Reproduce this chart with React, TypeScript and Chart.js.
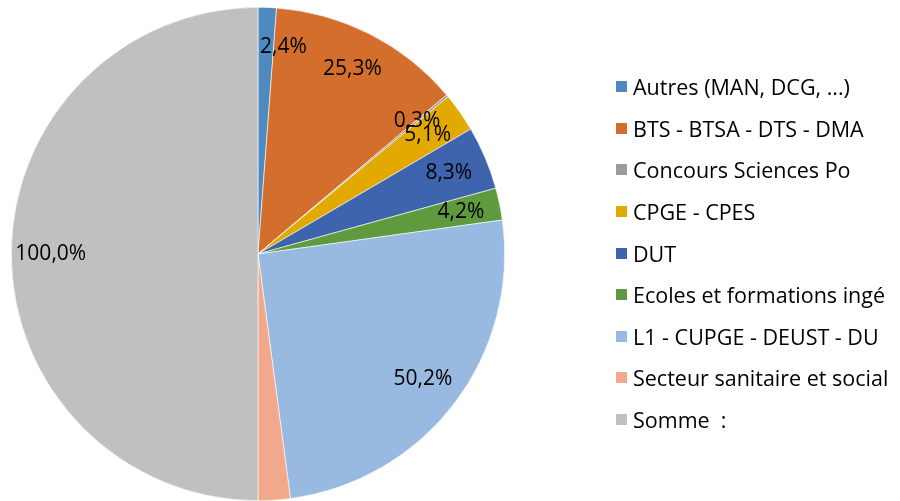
import React, { useEffect, useRef } from "react";
import { Chart, registerables } from "chart.js";

Chart.register(...registerables);

const categories = [
  "Autres (MAN, DCG, ...)",
  "BTS - BTSA - DTS - DMA",
  "Concours Sciences Po",
  "CPGE - CPES",
  "DUT",
  "Ecoles et formations ingé",
  "L1 - CUPGE - DEUST - DU",
  "Secteur sanitaire et social",
  "Somme  :",
];
const values = [2.4, 25.3, 0.3, 5.1, 8.3, 4.2, 50.2, 4.2, 100.0];
const labelShown = [true, true, true, true, true, true, true, false, true];
const colors = [
  "#4E8AC0",
  "#D46E2C",
  "#9C9C9C",
  "#E2A900",
  "#3D64AD",
  "#5F9A3F",
  "#98B9E0",
  "#F2A98B",
  "#C0C0C0",
];

const FONT = "'Open Sans', Lato, sans-serif";

const fmt = (v: number) => v.toFixed(1).replace(".", ",") + "%";

const labelPlugin = {
  id: "sliceLabels",
  afterDatasetsDraw(chart: any) {
    const ctx = chart.ctx;
    const meta = chart.getDatasetMeta(0);
    ctx.save();
    ctx.font = `21px ${FONT}`;
    ctx.fillStyle = "#000000";
    ctx.textAlign = "center";
    ctx.textBaseline = "middle";
    meta.data.forEach((arc: any, i: number) => {
      if (!labelShown[i]) return;
      const p = arc.getProps(["x", "y", "startAngle", "endAngle", "outerRadius"], true);
      const mid = (p.startAngle + p.endAngle) / 2;
      const r = p.outerRadius * 0.84;
      const text = fmt(values[i]);
      const w = ctx.measureText(text).width;
      let x = p.x + Math.cos(mid) * r;
      const y = p.y + Math.sin(mid) * r;
      if (Math.cos(mid) > 0) x = Math.max(x, p.x + w / 2 + 2);
      ctx.fillText(text, x, y);
    });
    ctx.restore();
  },
};

export default function App() {
  const ref = useRef<HTMLCanvasElement | null>(null);
  useEffect(() => {
    if (!ref.current) return;
    const chart = new Chart(ref.current, {
      type: "pie",
      data: {
        labels: categories,
        datasets: [
          {
            data: values,
            backgroundColor: colors,
            borderColor: "#ffffff",
            borderWidth: 0.6,
          },
        ],
      },
      options: {
        responsive: false,
        animation: false,
        layout: { padding: { left: 11, right: 395, top: 7, bottom: 0 } },
        plugins: {
          legend: { display: false },
          tooltip: { enabled: false },
        },
      },
      plugins: [labelPlugin],
    });
    return () => chart.destroy();
  }, []);

  return (
    <div style={{ position: "absolute", left: 0, top: 0, width: 900, height: 501, background: "#fff" }}>
      <canvas ref={ref} width={900} height={501} style={{ position: "absolute", left: 0, top: 0 }} />
      <div style={{ position: "absolute", left: 616, top: 66, fontFamily: FONT, fontSize: 21.5, color: "#000" }}>
        {categories.map((c, i) => (
          <div key={c} style={{ height: 41.6, display: "flex", alignItems: "center", whiteSpace: "pre" }}>
            <span style={{ display: "inline-block", width: 11, height: 11, background: colors[i], marginRight: 6, flex: "none" }} />
            <span>{c}</span>
          </div>
        ))}
      </div>
    </div>
  );
}
